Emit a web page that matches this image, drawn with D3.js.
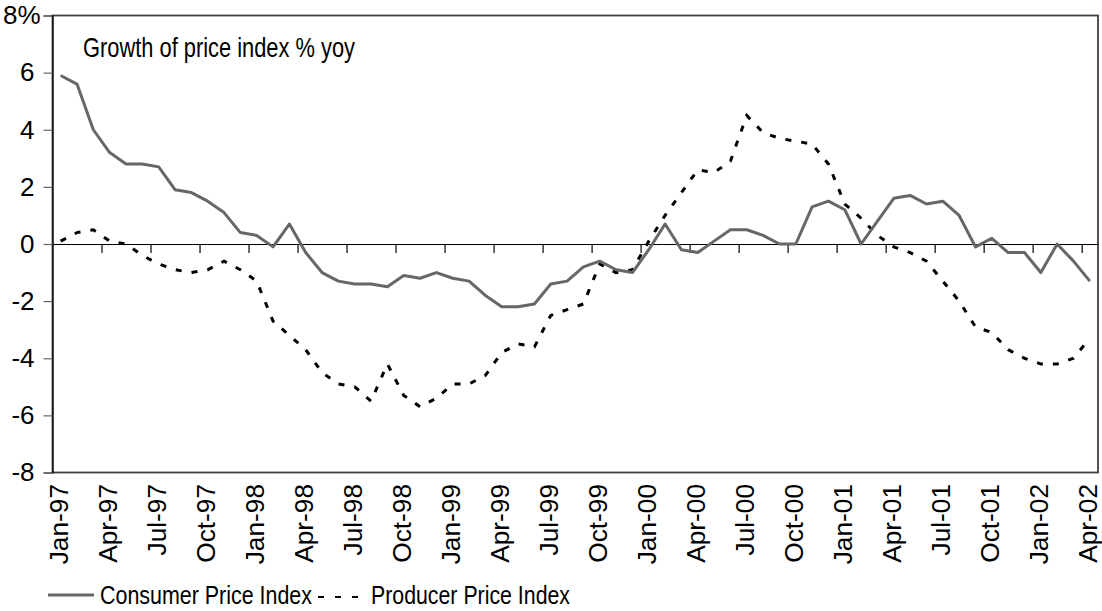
<!DOCTYPE html>
<html>
<head>
<meta charset="utf-8">
<script src="https://cdn.jsdelivr.net/npm/d3@7"></script>
<style>
  body { margin: 0; background: #fff; }
  text { font-family: Arial, "Liberation Sans", sans-serif; fill: #000; }
</style>
</head>
<body>
<svg width="1102" height="611"></svg>
<script>
// monthly categories Jan-97 .. Apr-02
const months = d3.timeMonth.range(new Date(1997, 0, 1), new Date(2002, 4, 1));
const fmtMonth = d3.timeFormat("%b-%y");

const cpi = [
  5.9, 5.6, 4.0, 3.2, 2.8, 2.8, 2.7, 1.9, 1.8, 1.5, 1.1, 0.4,
  0.3, -0.1, 0.7, -0.3, -1.0, -1.3, -1.4, -1.4, -1.5, -1.1, -1.2, -1.0,
  -1.2, -1.3, -1.8, -2.2, -2.2, -2.1, -1.4, -1.3, -0.8, -0.6, -0.9, -1.0,
  -0.2, 0.7, -0.2, -0.3, 0.1, 0.5, 0.5, 0.3, 0.0, 0.0, 1.3, 1.5,
  1.2, 0.0, 0.8, 1.6, 1.7, 1.4, 1.5, 1.0, -0.1, 0.2, -0.3, -0.3,
  -1.0, 0.0, -0.6, -1.3
];

const ppi = [
  0.1, 0.4, 0.5, 0.1, 0.0, -0.4, -0.7, -0.9, -1.0, -0.9, -0.6, -0.9,
  -1.3, -2.7, -3.2, -3.7, -4.5, -4.9, -5.0, -5.5, -4.2, -5.3, -5.7, -5.4,
  -4.9, -4.9, -4.6, -3.8, -3.5, -3.6, -2.5, -2.3, -2.1, -0.7, -1.0, -0.9,
  0.1, 1.0, 1.8, 2.6, 2.5, 2.9, 4.5, 3.9, 3.7, 3.6, 3.5, 2.8,
  1.4, 0.9, 0.3, -0.1, -0.3, -0.6, -1.3, -2.0, -2.9, -3.1, -3.7, -4.0,
  -4.2, -4.2, -4.0, -3.3
];

const yTicks = [-8, -6, -4, -2, 0, 2, 4, 6, 8];
const xLabelIdx = d3.range(0, months.length, 3);   // every quarter
const xTickIdx = d3.range(3, months.length, 3);    // boundaries with tick marks

const title = "Growth of price index % yoy";
const seriesNames = ["Consumer Price Index", "Producer Price Index"];

const LEFT = 52.5, RIGHT = 1098, TOP = 15.5, BOTTOM = 472.5;
const CPI_COLOR = "#676767";

var svg = d3.select("svg");

var x = d3.scaleBand()
  .domain(d3.range(months.length))
  .range([LEFT, RIGHT]);

var xb = d3.scaleLinear()
  .domain([0, months.length])
  .range([LEFT, RIGHT]);

var y = d3.scaleLinear()
  .domain([-8, 8])
  .range([BOTTOM, TOP]);

// plot frame
svg.append("rect")
  .attr("x", LEFT).attr("y", TOP)
  .attr("width", RIGHT - LEFT).attr("height", BOTTOM - TOP)
  .attr("fill", "none")
  .attr("stroke", "#404040")
  .attr("stroke-width", 1.8);

// y axis
var yAxis = svg.append("g")
  .attr("transform", `translate(${LEFT},0)`)
  .call(d3.axisLeft(y)
    .tickValues(yTicks)
    .tickSize(9)
    .tickPadding(9)
    .tickFormat(d => d === 8 ? "8%" : d));
yAxis.select(".domain").attr("stroke", "#000").attr("stroke-width", 1.2);
yAxis.selectAll(".tick line").attr("stroke", "#666").attr("stroke-width", 1.2);
yAxis.selectAll(".tick text")
  .attr("font-size", 26)
  .attr("font-family", "Arial, 'Liberation Sans', sans-serif")
  .attr("fill", "#000")
  .attr("dx", d => d === 8 ? 6 : 0);

// zero line with quarter ticks hanging below
var zAxis = svg.append("g")
  .attr("transform", `translate(0,${y(0)})`)
  .call(d3.axisBottom(xb)
    .tickValues(xTickIdx)
    .tickSize(9)
    .tickSizeOuter(0)
    .tickFormat(""));
zAxis.select(".domain").attr("stroke", "#000").attr("stroke-width", 1.2);
zAxis.selectAll(".tick line").attr("stroke", "#000").attr("stroke-width", 1.2);

// x labels, rotated
svg.append("g")
  .selectAll("text")
  .data(xLabelIdx)
  .enter().append("text")
    .attr("text-anchor", "end")
    .attr("font-size", 25)
    .attr("transform", d => `translate(${x(d) + x.bandwidth() / 2 + 7},484) rotate(-90) scale(1.05,1)`)
    .text(d => fmtMonth(months[d]));

// series
var line = d3.line()
  .x((d, i) => x(i) + x.bandwidth() / 2)
  .y(d => y(d));

svg.append("path")
  .datum(ppi)
  .attr("fill", "none")
  .attr("stroke", "#000")
  .attr("stroke-width", 3)
  .attr("stroke-dasharray", "6,10")
  .attr("d", line);

svg.append("path")
  .datum(cpi)
  .attr("fill", "none")
  .attr("stroke", CPI_COLOR)
  .attr("stroke-width", 3)
  .attr("stroke-linejoin", "round")
  .attr("d", line);

// title
svg.append("text")
  .attr("x", 83)
  .attr("y", 57)
  .attr("font-size", 28)
  .attr("textLength", 272)
  .attr("lengthAdjust", "spacingAndGlyphs")
  .text(title);

// legend
var legend = svg.append("g");
legend.append("line")
  .attr("x1", 48).attr("x2", 94)
  .attr("y1", 595).attr("y2", 595)
  .attr("stroke", CPI_COLOR)
  .attr("stroke-width", 3);
legend.append("text")
  .attr("x", 100).attr("y", 604)
  .attr("font-size", 26)
  .attr("textLength", 212)
  .attr("lengthAdjust", "spacingAndGlyphs")
  .text(seriesNames[0]);
legend.append("line")
  .attr("x1", 318).attr("x2", 364)
  .attr("y1", 597).attr("y2", 597)
  .attr("stroke", "#000")
  .attr("stroke-width", 2)
  .attr("stroke-dasharray", "6,11");
legend.append("text")
  .attr("x", 371).attr("y", 604)
  .attr("font-size", 26)
  .attr("textLength", 199)
  .attr("lengthAdjust", "spacingAndGlyphs")
  .text(seriesNames[1]);
</script>
</body>
</html>
